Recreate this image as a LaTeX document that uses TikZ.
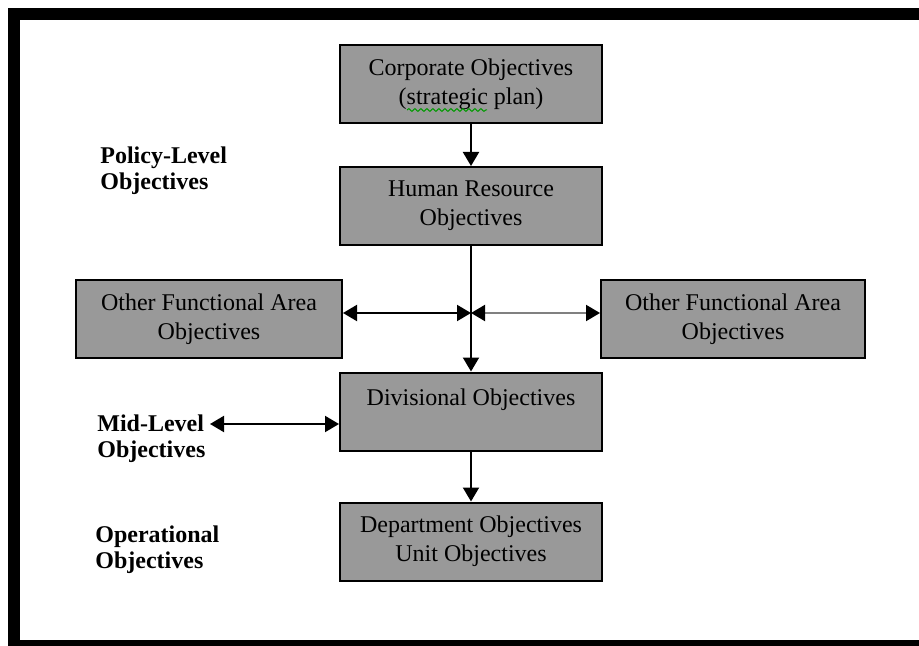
\documentclass[tikz,border=0pt]{standalone}
\usepackage{fontspec}
\setmainfont{Liberation Serif}
\usetikzlibrary{arrows.meta,decorations.pathmorphing}
\definecolor{boxgray}{RGB}{153,153,153}
\begin{document}
\begin{tikzpicture}[x=0.5pt,y=-0.5pt,
  box/.style={draw=black,line width=1pt,fill=boxgray,minimum width=131pt,minimum height=39pt,align=center,inner sep=0pt,font=\fontsize{12}{14.4}\selectfont},
  lbl/.style={anchor=west,align=left,inner sep=0pt,font=\bfseries\fontsize{12}{13}\selectfont},
  conn/.style={line width=1pt,-{Triangle[length=7pt,width=8pt]}},
  dconn/.style={line width=1pt,{Triangle[length=7pt,width=8pt,color=black]}-{Triangle[length=7pt,width=8pt,color=black]}}]
\useasboundingbox (0,0) rectangle (919,646);
\fill[white] (0,0) rectangle (919,646);
\draw[line width=6pt] (14,14) rectangle (925,646);
% boxes
\node[box] (corp) at (471,84) {Corporate Objectives\\(strategic plan)};
\node[box] (hr) at (471,206) {Human Resource\\Objectives};
\node[box,minimum width=133pt] (ofl) at (209,319) {Other Functional Area\\Objectives};
\node[box,minimum width=132pt] (ofr) at (733,319) {Other Functional Area\\Objectives};
\node[box] (div) at (471,411.5) {Divisional Objectives\\\mbox{}};
\node[box] (dept) at (471,541.5) {Department Objectives\\Unit Objectives};
% labels
\node[lbl] (pol) at (100,171) {Policy-Level\\Objectives};
\node[lbl] (mid) at (97,439) {Mid-Level\\Objectives};
\node[lbl] (ops) at (95,550) {Operational\\Objectives};
% spell-check squiggle
\draw[green!60!black,decorate,decoration={snake,amplitude=0.7pt,segment length=3pt},line width=0.5pt] (407,110) -- (487,110);
% connectors
\coordinate (j) at (471,313);
\coordinate (midend) at (210,424);
\draw[conn] (corp) -- (hr);
\draw[conn] (hr) -- (div);
\draw[conn] (div) -- (dept);
\draw[dconn] (ofl.east |- j) -- (j);
\draw[dconn,draw=gray] (j) -- (ofr.west |- j);
\draw[dconn] (midend) -- (div.west |- midend);
\end{tikzpicture}
\end{document}
